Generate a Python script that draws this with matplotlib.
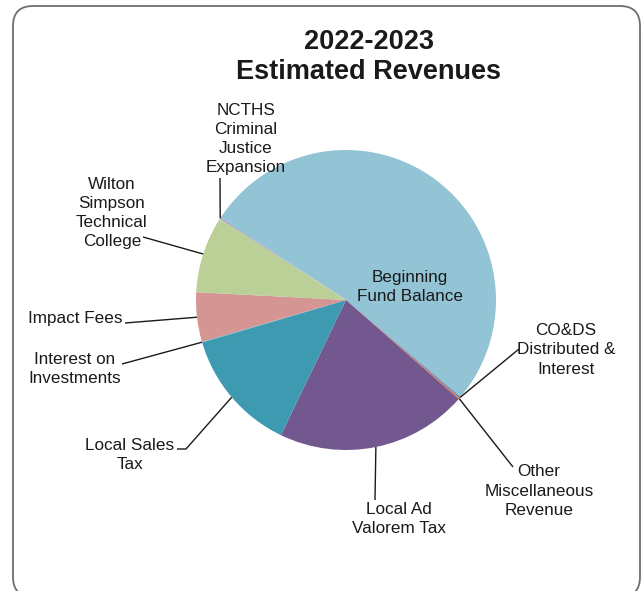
import numpy as np
import matplotlib
matplotlib.use("Agg")
import matplotlib.pyplot as plt
from matplotlib.patches import FancyBboxPatch

plt.rcParams["font.family"] = ["Liberation Sans", "DejaVu Sans"]

# revenue sources, clockwise from the top-left of the pie (share of total, %)
sources = [
    "NCTHS\nCriminal\nJustice\nExpansion",
    "Beginning\nFund Balance",
    "CO&DS\nDistributed &\nInterest",
    "Other\nMiscellaneous\nRevenue",
    "Local Ad\nValorem Tax",
    "Local Sales\nTax",
    "Interest on\nInvestments",
    "Impact Fees",
    "Wilton\nSimpson\nTechnical\nCollege",
]
shares = [0.17, 51.94, 0.14, 0.14, 20.67, 13.28, 0.08, 5.33, 8.25]
colors = ["#A99BC6", "#93C4D5", "#4F81BD", "#E2703A", "#72588F",
          "#3D9AB0", "#4BACC6", "#D59592", "#BBD097"]

W, H = 643, 591
fig = plt.figure(figsize=(W / 100, H / 100), dpi=100)
ax = fig.add_axes([0, 0, 1, 1])

cx, cy, r = 346, H - 300, 150
wedges, _ = ax.pie(shares, colors=colors, startangle=147.3, counterclock=False,
                   center=(cx, cy), radius=r, wedgeprops=dict(linewidth=0))
ax.set_xlim(0, W)
ax.set_ylim(0, H)
ax.set_aspect("equal")
ax.axis("off")

# rounded frame around the chart
frame = FancyBboxPatch((13 + 20, -6 + 20), 627 - 40, 591 - 40,
                       boxstyle="round,pad=20", fc="none", ec="#6e6e6e", lw=1.3)
ax.add_patch(frame)

ax.text(369, H - 57, "2022-2023\nEstimated Revenues", ha="center", va="center",
        fontsize=19.5, fontweight="bold", linespacing=1.2, color="#1a1a1a")


def anchor(i):
    w = wedges[i]
    a = np.deg2rad((w.theta1 + w.theta2) / 2)
    return cx + r * np.cos(a), cy + r * np.sin(a)


# label layout: (text x, text y, alignment, leader bend points) in pixels from top-left
layout = {
    0: (246, 139, "center", [(220, 178)]),
    2: (566, 350, "center", [(519, 349)]),
    3: (539, 491, "center", [(513, 467)]),
    4: (399, 519, "center", [(375, 500)]),
    5: (130, 455, "center", [(186, 449), (177, 449)]),
    6: (75, 369, "center", [(122, 364)]),
    7: (122, 318, "right", [(125, 323)]),
    8: (112, 213, "center", [(143, 237)]),
}

for i, (tx, ty, ha, pts) in layout.items():
    x0, y0 = anchor(i)
    xs = [x0] + [p[0] for p in pts]
    ys = [y0] + [H - p[1] for p in pts]
    ax.plot(xs, ys, color="#1a1a1a", lw=1.0, solid_capstyle="butt")
    ax.text(tx, H - ty, sources[i], ha=ha, va="center", multialignment="center",
            fontsize=12.3, linespacing=1.36, color="#1a1a1a")

ax.text(410, H - 287, sources[1], ha="center", va="center", fontsize=12.3,
        linespacing=1.36, color="#1a1a1a")

fig.savefig("out.png", dpi=100)
